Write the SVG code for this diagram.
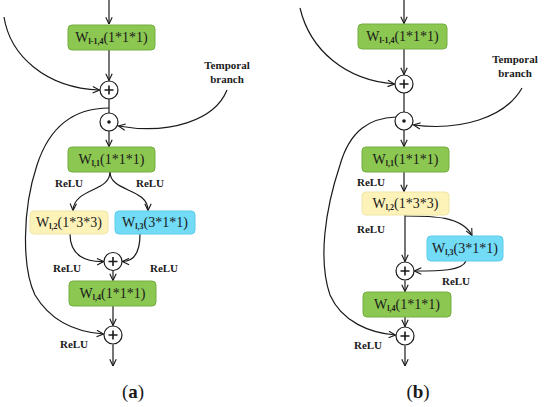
<svg xmlns="http://www.w3.org/2000/svg" width="550" height="407" viewBox="0 0 550 407">
<defs>
<marker id="ah" viewBox="0 0 10 10" refX="9.5" refY="5" markerWidth="8" markerHeight="8" orient="auto" markerUnits="userSpaceOnUse">
<path d="M1,1 L9.5,5 L1,9" fill="none" stroke="#1a1a1a" stroke-width="1.4"/>
</marker>
</defs>
<style>
.e{fill:none;stroke:#1a1a1a;stroke-width:1.2;marker-end:url(#ah)}
.l{fill:none;stroke:#1a1a1a;stroke-width:1.2}
.g{fill:#8cc751;stroke:#74ad42;stroke-width:1}
.y{fill:#fdf3b9;stroke:#efe5a6;stroke-width:1}
.c{fill:#72dcf7;stroke:#5ccbe9;stroke-width:1}
.t{font-family:"Liberation Serif",serif;font-size:14px;fill:#1a1a1a;text-anchor:middle}
.s{font-size:8px;font-weight:bold}
.r{font-family:"Liberation Serif",serif;font-size:11px;font-weight:bold;fill:#1a1a1a;text-anchor:middle}
.o{fill:#fff;stroke:#1a1a1a;stroke-width:1.2}
.p{stroke:#1a1a1a;stroke-width:1.6}
.cap{font-family:"Liberation Serif",serif;font-size:19px;fill:#1a1a1a;text-anchor:middle}
</style>
<rect width="550" height="407" fill="#fff"/>

<g id="connectors">
<!-- panel a -->
<path class="e" d="M109,0 L109,24"/>
<path class="e" d="M109,50 L109,80.5"/>
<path class="e" d="M4,17 C10,55 45,88 99.5,90"/>
<path class="l" d="M109,99 L109,113"/>
<path class="e" d="M227,90 C215,120 170,135 118.5,126"/>
<path class="e" d="M109,108 C75,108 50,125 37,165 C22,210 22,268 35,295 C50,320 75,332 103.5,334"/>
<path class="e" d="M109,131 L109,146.5"/>
<path class="e" d="M110,172 C110,192 74,188 73,210.5"/>
<path class="e" d="M110,172 C110,192 148,188 148,210.5"/>
<path class="e" d="M70,234 C70,256 86,262 103.8,261.5"/>
<path class="e" d="M140,234 C140,255 132,261.5 122.3,261.5"/>
<path class="e" d="M113,270.5 L113,280.5"/>
<path class="e" d="M113,306 L113,325.5"/>
<path class="e" d="M113,344.5 L113,366"/>
<!-- panel b -->
<path class="e" d="M404,0 L404,23.5"/>
<path class="e" d="M404,49 L404,74.5"/>
<path class="e" d="M300,8 C310,50 345,80 394.5,84"/>
<path class="l" d="M404,93 L404,112"/>
<path class="e" d="M522,88 C505,118 460,131 413.5,125"/>
<path class="e" d="M396,117 C370,118 350,130 340,165 C325,210 318,260 330,295 C342,322 370,333 395.5,335"/>
<path class="e" d="M404,130 L404,146.5"/>
<path class="e" d="M404,172 L404,191.5"/>
<path class="e" d="M405,215 L405,261.5"/>
<path class="e" d="M405,216 C432,216 462,216 472,235.5"/>
<path class="e" d="M466,261 C462,271 440,271 414.5,271"/>
<path class="e" d="M405,280.5 L405,291.5"/>
<path class="e" d="M405,317 L405,326.5"/>
<path class="e" d="M405,345.5 L405,366"/>
</g>

<g id="a-w-l-1-4"><rect class="g" x="68" y="25" width="87" height="25" rx="4"/><text class="t" x="111.5" y="42">W<tspan class="s" dy="2">l-1,4</tspan><tspan dy="-2">(1*1*1)</tspan></text></g>
<g id="a-plus1"><circle class="o" cx="109" cy="90" r="9"/><path class="p" d="M104.5,90 H113.5 M109,85.5 V94.5"/></g>
<g id="a-dot"><circle class="o" cx="109" cy="122" r="9"/><circle cx="109" cy="122" r="1.8" fill="#1a1a1a"/></g>
<g id="a-temporal"><text class="r" x="227" y="69">Temporal</text><text class="r" x="227" y="83">branch</text></g>
<g id="a-w-l-1"><rect class="g" x="68" y="147" width="87" height="25" rx="4"/><text class="t" x="111.5" y="164">W<tspan class="s" dy="2">l,1</tspan><tspan dy="-2">(1*1*1)</tspan></text></g>
<g id="a-w-l-2"><rect class="y" x="30" y="211" width="78" height="23" rx="4"/><text class="t" x="69" y="227">W<tspan class="s" dy="2">l,2</tspan><tspan dy="-2">(1*3*3)</tspan></text></g>
<g id="a-w-l-3"><rect class="c" x="115" y="211" width="80" height="23" rx="4"/><text class="t" x="155" y="227">W<tspan class="s" dy="2">l,3</tspan><tspan dy="-2">(3*1*1)</tspan></text></g>
<g id="a-plus2"><circle class="o" cx="113" cy="261.5" r="9"/><path class="p" d="M108.5,261.5 H117.5 M113,257 V266"/></g>
<g id="a-w-l-4"><rect class="g" x="69" y="281" width="87" height="25" rx="4"/><text class="t" x="112.5" y="298">W<tspan class="s" dy="2">l,4</tspan><tspan dy="-2">(1*1*1)</tspan></text></g>
<g id="a-plus3"><circle class="o" cx="113" cy="335" r="9"/><path class="p" d="M108.5,335 H117.5 M113,330.5 V339.5"/></g>
<g id="a-relu">
<text class="r" x="69" y="187">ReLU</text><text class="r" x="150" y="187">ReLU</text>
<text class="r" x="67" y="272">ReLU</text><text class="r" x="164" y="272">ReLU</text>
<text class="r" x="74" y="348">ReLU</text>
</g>
<g id="a-caption"><text class="cap" x="133" y="398">(<tspan font-weight="bold">a</tspan>)</text></g>

<g id="b-w-l-1-4"><rect class="g" x="358" y="24" width="89" height="25" rx="4"/><text class="t" x="402.5" y="41">W<tspan class="s" dy="2">l-1,4</tspan><tspan dy="-2">(1*1*1)</tspan></text></g>
<g id="b-plus1"><circle class="o" cx="404" cy="84" r="9"/><path class="p" d="M399.5,84 H408.5 M404,79.5 V88.5"/></g>
<g id="b-dot"><circle class="o" cx="404" cy="121" r="9"/><circle cx="404" cy="121" r="1.8" fill="#1a1a1a"/></g>
<g id="b-temporal"><text class="r" x="515" y="63">Temporal</text><text class="r" x="515" y="77">branch</text></g>
<g id="b-w-l-1"><rect class="g" x="362" y="147" width="87" height="25" rx="4"/><text class="t" x="405.5" y="164">W<tspan class="s" dy="2">l,1</tspan><tspan dy="-2">(1*1*1)</tspan></text></g>
<g id="b-w-l-2"><rect class="y" x="362" y="192" width="87" height="23" rx="4"/><text class="t" x="405.5" y="208">W<tspan class="s" dy="2">l,2</tspan><tspan dy="-2">(1*3*3)</tspan></text></g>
<g id="b-w-l-3"><rect class="c" x="427" y="236" width="76" height="25" rx="4"/><text class="t" x="465" y="253">W<tspan class="s" dy="2">l,3</tspan><tspan dy="-2">(3*1*1)</tspan></text></g>
<g id="b-plus2"><circle class="o" cx="405" cy="271" r="9"/><path class="p" d="M400.5,271 H409.5 M405,266.5 V275.5"/></g>
<g id="b-w-l-4"><rect class="g" x="363" y="292" width="88" height="25" rx="4"/><text class="t" x="407" y="309">W<tspan class="s" dy="2">l,4</tspan><tspan dy="-2">(1*1*1)</tspan></text></g>
<g id="b-plus3"><circle class="o" cx="405" cy="336" r="9"/><path class="p" d="M400.5,336 H409.5 M405,331.5 V340.5"/></g>
<g id="b-relu">
<text class="r" x="371" y="186">ReLU</text>
<text class="r" x="371" y="233">ReLU</text>
<text class="r" x="456" y="285">ReLU</text>
<text class="r" x="368" y="349">ReLU</text>
</g>
<g id="b-caption"><text class="cap" x="418" y="398">(<tspan font-weight="bold">b</tspan>)</text></g>
</svg>
